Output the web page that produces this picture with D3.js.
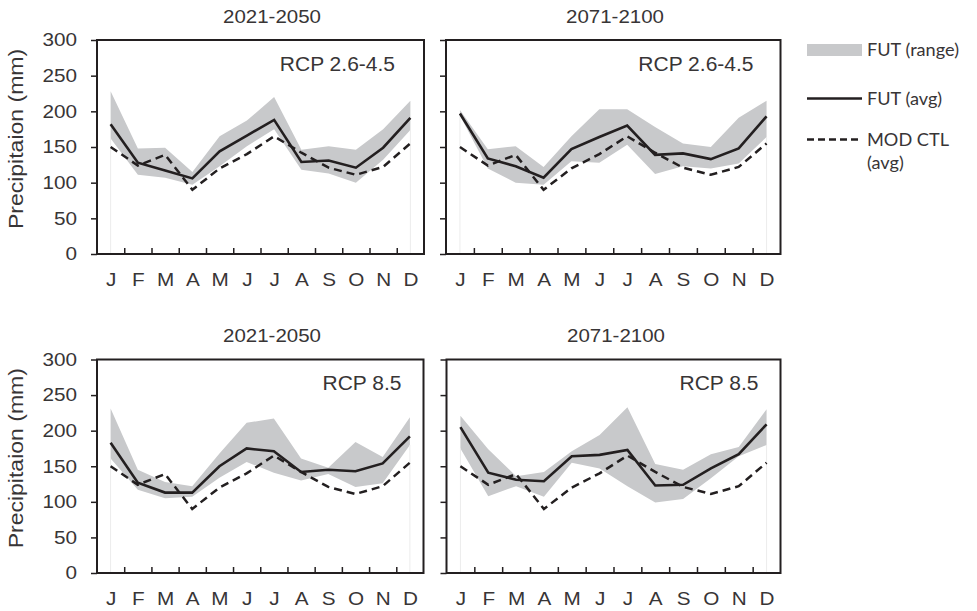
<!DOCTYPE html>
<html>
<head>
<meta charset="utf-8">
<script src="https://cdn.jsdelivr.net/npm/d3@7"></script>
<style>
  body { margin: 0; background: #fff; }
  svg { display: block; }
</style>
</head>
<body>
<svg id="chart" width="977" height="611"></svg>
<script>
// ---- data (mm) ----
const monthLabels = ['J', 'F', 'M', 'A', 'M', 'J', 'J', 'A', 'S', 'O', 'N', 'D']
const yTicks = [0, 50, 100, 150, 200, 250, 300]
const periods = ['2021-2050', '2071-2100', '2021-2050', '2071-2100']
const scenarios = ['RCP 2.6-4.5', 'RCP 2.6-4.5', 'RCP 8.5', 'RCP 8.5']

// model control run, same curve in every panel
const ctlAvg = [150, 124, 139, 90, 120, 140, 165, 142, 121, 111, 122, 155]

const futAvgRcp26Near = [182, 128, 117, 106, 144, 166, 188, 129, 131, 121, 149, 191]
const futMaxRcp26Near = [228, 148, 149, 115, 165, 187, 220, 146, 151, 146, 175, 215]
const futMinRcp26Near = [162, 111, 107, 97, 123, 151, 175, 118, 113, 100, 132, 174]

const futAvgRcp26Far = [197, 134, 123, 107, 147, 164, 180, 139, 141, 133, 148, 193]
const futMaxRcp26Far = [202, 147, 151, 122, 165, 203, 203, 178, 155, 150, 191, 215]
const futMinRcp26Far = [194, 120, 100, 97, 130, 128, 153, 112, 123, 120, 127, 164]

const futAvgRcp85Near = [183, 127, 113, 113, 150, 175, 171, 142, 145, 143, 154, 192]
const futMaxRcp85Near = [231, 145, 128, 122, 168, 211, 217, 161, 148, 184, 163, 219]
const futMinRcp85Near = [161, 117, 105, 107, 134, 156, 141, 130, 139, 121, 126, 180]

const futAvgRcp85Far = [205, 141, 131, 129, 164, 166, 173, 123, 124, 147, 167, 209]
const futMaxRcp85Far = [221, 174, 136, 142, 171, 194, 233, 153, 145, 167, 177, 230]
const futMinRcp85Far = [175, 108, 122, 107, 155, 147, 122, 99, 104, 133, 164, 180]

const legendLabels = ['FUT (range)', 'FUT (avg)', 'MOD CTL', '(avg)']

// ---- layout ----
const ink = '#231f20'
const textInk = '#383536'
const bandColor = '#c8c9cb'
const font = "'Liberation Sans', Arial, sans-serif"

const panels = [
    {left: 97, right: 424, top: 40, bottom: 254, titleX: 272, rcpInset: 29, labels: true,
        avg: futAvgRcp26Near, max: futMaxRcp26Near, min: futMinRcp26Near},
    {left: 446, right: 780.5, top: 40, bottom: 254, titleX: 615, rcpInset: 27, labels: false,
        avg: futAvgRcp26Far, max: futMaxRcp26Far, min: futMinRcp26Far},
    {left: 97, right: 423.5, top: 359.5, bottom: 573, titleX: 272, rcpInset: 22, labels: true,
        avg: futAvgRcp85Near, max: futMaxRcp85Near, min: futMinRcp85Near},
    {left: 446.5, right: 780.5, top: 359.5, bottom: 573, titleX: 616, rcpInset: 22, labels: false,
        avg: futAvgRcp85Far, max: futMaxRcp85Far, min: futMinRcp85Far}
]

const svg = d3.select('#chart')

// the source figure has horizontally widened lettering
function stretch(sel, k) {
    sel.each(function() {
        const w = this.getComputedTextLength()
        this.setAttribute('textLength', w * k)
        this.setAttribute('lengthAdjust', 'spacingAndGlyphs')
    })
}

function drawPanel(p, i) {
    const g = svg.append('g')

    const x = d3.scalePoint().domain(d3.range(12)).range([p.left, p.right]).padding(0.5)
    const xEdge = d3.scaleLinear().domain([0, 12]).range([p.left, p.right])
    const y = d3.scaleLinear().domain([0, 300]).range([p.bottom, p.top])

    const band = p.min.map((d, j) => [d, p.max[j]])
    const area = d3.area()
        .x((d, j) => x(j))
        .y0(d => y(d[0]))
        .y1(d => y(d[1]))
    g.append('path')
        .attr('d', area(band))
        .attr('fill', bandColor)

    // faint edges of the range area down to zero
    g.selectAll('line.edge').data([0, 11]).enter().append('line')
        .attr('class', 'edge')
        .attr('x1', j => x(j)).attr('x2', j => x(j))
        .attr('y1', y(0)).attr('y2', j => y(p.min[j]))
        .attr('stroke', '#ececec')
        .attr('stroke-width', 1)

    const line = d3.line().x((d, j) => x(j)).y(d => y(d))
    g.append('path')
        .attr('d', line(ctlAvg))
        .attr('fill', 'none')
        .attr('stroke', ink)
        .attr('stroke-width', 2.5)
        .attr('stroke-dasharray', '8,5')
    g.append('path')
        .attr('d', line(p.avg))
        .attr('fill', 'none')
        .attr('stroke', ink)
        .attr('stroke-width', 2.6)

    // inner tick marks between months
    const tickG = g.append('g')
        .attr('transform', `translate(0,${p.bottom})`)
        .call(d3.axisBottom(xEdge).tickValues(d3.range(1, 12)).tickSize(-6).tickFormat(''))
    tickG.select('.domain').remove()
    tickG.selectAll('line').attr('stroke', ink).attr('stroke-width', 1.5)

    // month labels
    const monthG = g.append('g')
        .attr('transform', `translate(0,${p.bottom})`)
        .call(d3.axisBottom(x).tickSize(0).tickPadding(19).tickFormat(j => monthLabels[j]))
        .attr('font-family', font)
        .attr('font-size', 18)
    monthG.select('.domain').remove()
    monthG.selectAll('text').attr('fill', textInk)
    stretch(monthG.selectAll('text'), 1.15)

    // y axis, ticks pointing out
    const yG = g.append('g')
        .attr('transform', `translate(${p.left},0)`)
        .call(d3.axisLeft(y).tickValues(yTicks).tickSize(6).tickPadding(14)
            .tickFormat(p.labels ? d3.format('d') : ''))
        .attr('font-family', font)
        .attr('font-size', 18)
    yG.select('.domain').remove()
    yG.selectAll('line').attr('stroke', ink).attr('stroke-width', 1.5)
    yG.selectAll('text').attr('fill', textInk)
    if (p.labels) stretch(yG.selectAll('text'), 1.15)

    // frame
    g.append('rect')
        .attr('x', p.left).attr('y', p.top)
        .attr('width', p.right - p.left).attr('height', p.bottom - p.top)
        .attr('fill', 'none')
        .attr('stroke', ink)
        .attr('stroke-width', 2)

    // period title
    const title = g.append('text')
        .attr('x', p.titleX).attr('y', p.top - 17.5)
        .attr('text-anchor', 'middle')
        .attr('font-family', font).attr('font-size', 17.5)
        .attr('fill', textInk)
        .text(periods[i])
    stretch(title, 1.17)

    // scenario tag
    const tag = g.append('text')
        .attr('x', p.right - p.rcpInset).attr('y', p.top + 30.5)
        .attr('text-anchor', 'end')
        .attr('font-family', font).attr('font-size', 20)
        .attr('fill', textInk)
        .text(scenarios[i])
    stretch(tag, 1.05)

    // axis title
    if (p.labels) {
        const yl = g.append('text')
            .attr('transform', `translate(22.5,${(p.top + p.bottom) / 2 - 8}) rotate(-90)`)
            .attr('text-anchor', 'middle')
            .attr('font-family', font).attr('font-size', 20)
            .attr('fill', textInk)
            .text('Precipitaion (mm)')
        stretch(yl, 1.15)
    }
}

panels.forEach(drawPanel)

// ---- legend ----
const legend = svg.append('g')
const legFont = "Lato, 'Open Sans', sans-serif"
legend.append('rect')
    .attr('x', 807).attr('y', 44)
    .attr('width', 55).attr('height', 12)
    .attr('fill', bandColor)
legend.append('line')
    .attr('x1', 807).attr('x2', 862).attr('y1', 98.5).attr('y2', 98.5)
    .attr('stroke', ink).attr('stroke-width', 2.6)
legend.append('line')
    .attr('x1', 807).attr('x2', 862).attr('y1', 139.5).attr('y2', 139.5)
    .attr('stroke', ink).attr('stroke-width', 2.5)
    .attr('stroke-dasharray', '7,4')

const legendY = [56, 105, 146, 168.5]
const legText = legend.selectAll('text').data(legendLabels).enter().append('text')
    .attr('x', 867)
    .attr('y', (d, i) => legendY[i])
    .attr('font-family', legFont)
    .attr('font-size', 16.5)
    .attr('fill', textInk)
    .text(d => d)
stretch(legText, 1.1)
</script>
</body>
</html>
